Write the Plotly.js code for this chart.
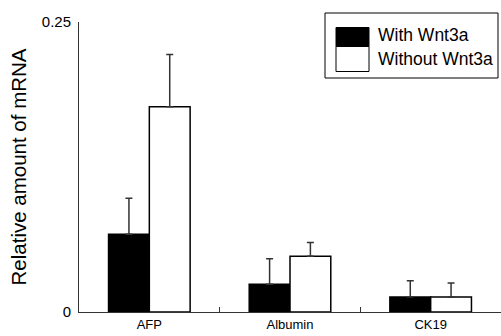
<!DOCTYPE html>
<html>
<head>
<meta charset="utf-8">
<script src="https://cdn.plot.ly/plotly-3.0.1.min.js"></script>
<style>html,body{margin:0;padding:0;background:#fff;}#chart{width:501px;height:336px;}</style>
</head>
<body>
<div id="chart"></div>
<script>
const categories = ["AFP", "Albumin", "CK19"];
const seriesNames = ["With Wnt3a", "Without Wnt3a"];
const withWnt3a = [0.067, 0.024, 0.013];
const withWnt3aErr = [0.031, 0.022, 0.014];
const withoutWnt3a = [0.177, 0.048, 0.013];
const withoutWnt3aErr = [0.045, 0.012, 0.012];
const yTickVals = [0, 0.25];
const yTickText = ["0", "0.25"];

const reg = "Liberation Sans, Arial, Helvetica, sans-serif";

function errCfg(arr) {
  return {type: "data", symmetric: false, array: arr, arrayminus: arr.map(() => 0),
          color: "#333", thickness: 1.5, width: 3.5};
}

const traces = [
  {type: "bar", name: seriesNames[0], x: categories, y: withWnt3a,
   marker: {color: "#000", line: {color: "#000", width: 1.5}},
   error_y: errCfg(withWnt3aErr), showlegend: false},
  {type: "bar", name: seriesNames[1], x: categories, y: withoutWnt3a,
   marker: {color: "#fff", line: {color: "#000", width: 1.5}},
   error_y: errCfg(withoutWnt3aErr), showlegend: false}
];

const px = x => (x - 79) / 422;
const py = y => (312 - y) / 290;

const layout = {
  width: 501, height: 336,
  margin: {l: 79, r: 0, t: 22, b: 24, pad: 0},
  paper_bgcolor: "#fff", plot_bgcolor: "#fff",
  barmode: "group", bargap: 0.42, bargroupgap: 0,
  showlegend: false,
  xaxis: {
    type: "category", range: [-0.5, 2.5], showline: true, linecolor: "#333", linewidth: 1,
    ticks: "inside", tickson: "boundaries", ticklen: 5, tickcolor: "#333", tickwidth: 1,
    showgrid: false, zeroline: false, fixedrange: true,
    tickfont: {family: reg, size: 13, color: "#000"}
  },
  yaxis: {
    range: [0, 0.25], tickvals: yTickVals, ticktext: yTickText,
    showline: true, linecolor: "#333", linewidth: 1,
    ticks: "inside", ticklen: 6, tickcolor: "#333", tickwidth: 1,
    ticklabelstandoff: 4,
    showgrid: false, zeroline: false, fixedrange: true,
    tickfont: {family: reg, size: 15, color: "#000"},
    title: {text: "Relative amount of mRNA", font: {family: reg, size: 20.5, color: "#000"}, standoff: 9}
  },
  shapes: [
    {type: "rect", xref: "paper", yref: "paper", x0: px(325), x1: px(498), y0: py(78), y1: py(13),
     line: {color: "#000", width: 1}, fillcolor: "#fff", layer: "above"},
    {type: "rect", xref: "paper", yref: "paper", x0: px(336), x1: px(369), y0: py(46.5), y1: py(27.5),
     line: {color: "#000", width: 1}, fillcolor: "#000", layer: "above"},
    {type: "rect", xref: "paper", yref: "paper", x0: px(336), x1: px(369), y0: py(71.5), y1: py(46.5),
     line: {color: "#000", width: 1}, fillcolor: "#fff", layer: "above"}
  ],
  annotations: [
    {xref: "paper", yref: "paper", x: px(376), y: py(35), xanchor: "left", yanchor: "middle",
     text: seriesNames[0], showarrow: false, font: {family: reg, size: 17.5, color: "#000"}},
    {xref: "paper", yref: "paper", x: px(376), y: py(59), xanchor: "left", yanchor: "middle",
     text: seriesNames[1], showarrow: false, font: {family: reg, size: 17.5, color: "#000"}}
  ]
};

Plotly.newPlot("chart", traces, layout, {staticPlot: true, displayModeBar: false});
</script>
</body>
</html>
